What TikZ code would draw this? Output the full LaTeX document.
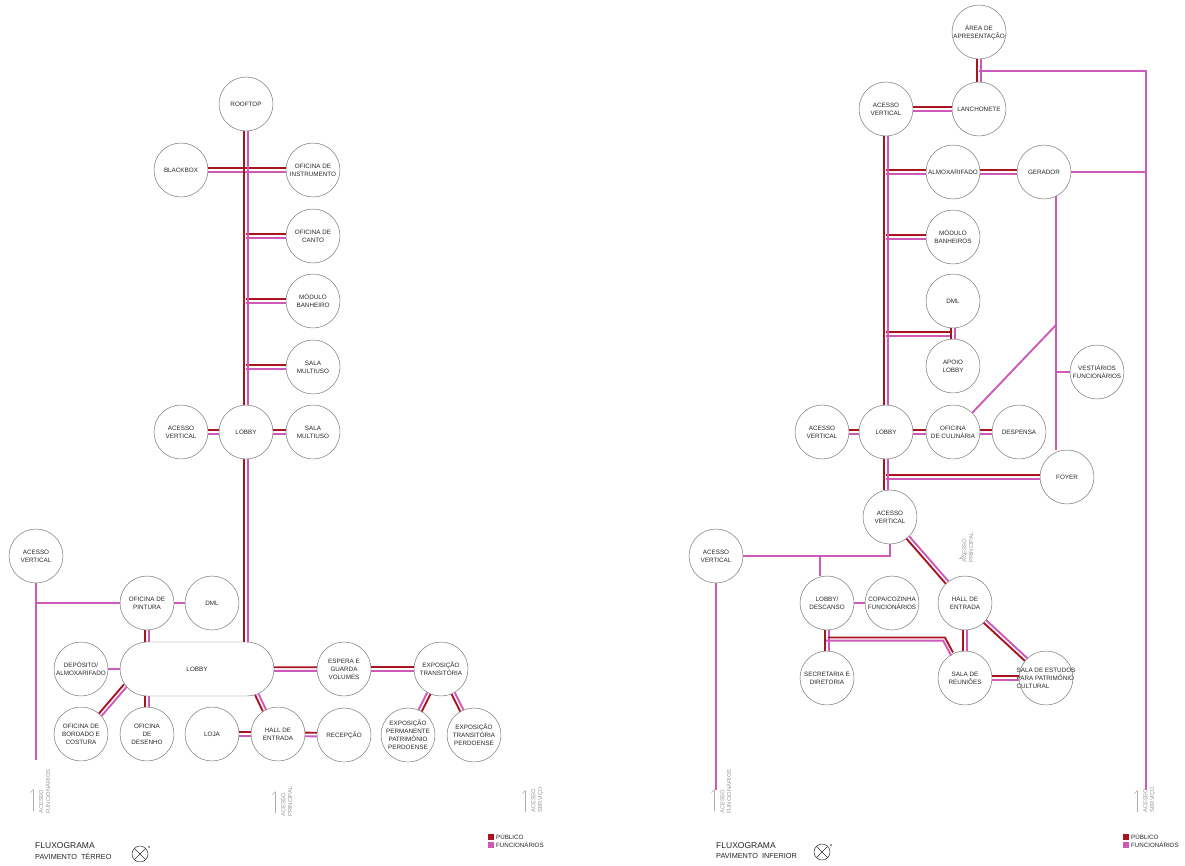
\documentclass[tikz,border=0pt]{standalone}
\usepackage{fontspec}
\setmainfont{Liberation Sans}
\usetikzlibrary{positioning,shapes.misc,arrows.meta}

\definecolor{pubred}{RGB}{168,20,32}
\definecolor{funpink}{RGB}{204,90,184}
\definecolor{traco}{RGB}{110,110,110}

% red + pink pair, red on side #1
\newcommand{\fluxo}[2]{%
  \draw[pub, transform canvas={shift={(#1:1.8pt)}}] #2;
  \draw[fun, transform canvas={shift={(#1+180:1.8pt)}}] #2;}

\begin{document}
\begin{tikzpicture}[x=1pt, y=-1pt]

\tikzstyle{sala} = [circle, draw=traco, line width=0.45pt, minimum size=54pt, inner sep=0pt, align=center, text=black!85, font=\fontsize{6.3}{8}\selectfont]
\tikzstyle{salao} = [rounded rectangle, draw=traco, line width=0.45pt, minimum width=154pt, minimum height=54pt, inner sep=0pt, text=black!85, font=\fontsize{6.3}{8}\selectfont]
\tikzstyle{pub} = [draw=pubred, line width=1.9pt]
\tikzstyle{fun} = [draw=funpink, line width=1.9pt]
\tikzstyle{acesso} = [rotate=90, anchor=north west, align=left, inner sep=0pt, text=gray!80, font=\fontsize{5.8}{6.8}\selectfont]
\tikzstyle{seta} = [draw=gray!65, line width=0.5pt, -{Straight Barb[left,length=3pt,width=5pt]}]
\tikzstyle{legenda} = [inner sep=0pt, text=black!85, font=\fontsize{6.2}{7}\selectfont]
\tikzstyle{marca} = [minimum size=5.5pt, inner sep=0pt]

\fill[white] (0,0) rectangle (1185,865);
\useasboundingbox (0,0) rectangle (1185,865);

% pavimento terreo
\node[sala] (roof) at (246,104) {ROOFTOP};
\node[sala] (bbox) at (181,170) {BLACKBOX};
\node[sala] (oins) at (313,170) {OFICINA DE\\INSTRUMENTO};
\node[sala] (ocan) at (313,236) {OFICINA DE\\CANTO};
\node[sala] (mban) at (313,301) {MÓDULO\\BANHEIRO};
\node[sala] (smu) at (313,367) {SALA\\MULTIUSO};

\node[sala] (avt) at (181,432) {ACESSO\\VERTICAL};
\node[sala] (lobt) at (246,432) {LOBBY};
\node[sala] (smt) at (313,432) {SALA\\MULTIUSO};

\node[sala] (ave) at (36,556) {ACESSO\\VERTICAL};
\node[sala] (opin) at (147,603) {OFICINA DE\\PINTURA};
\node[sala] (dmlt) at (212,603) {DML};
\node[sala] (dep) at (81,669) {DEPÓSITO/\\ALMOXARIFADO};
\node[salao] (lob) at (197,669) {LOBBY};
\node[sala] (esp) at (344,669) {ESPERA E\\GUARDA\\VOLUMES};
\node[sala] (ext) at (441,669) {EXPOSIÇÃO\\TRANSITÓRIA};

\node[sala] (obor) at (81,734) {OFICINA DE\\BORDADO E\\COSTURA};
\node[sala] (odes) at (147,734) {OFICINA\\DE\\DESENHO};
\node[sala] (loja) at (212,734) {LOJA};
\node[sala] (hall) at (278,734) {HALL DE\\ENTRADA};
\node[sala] (rec) at (344,735) {RECEPÇÃO};
\node[sala] (expp) at (408,735) {EXPOSIÇÃO\\PERMANENTE\\PATRIMÔNIO\\PERDOENSE};
\node[sala] (extp) at (474,735) {EXPOSIÇÃO\\TRANSITÓRIA\\PERDOENSE};

\coordinate (fe) at (36,760);

\fluxo{90}{(bbox) -- (oins)}
\fluxo{90}{(roof |- ocan) -- (ocan)}
\fluxo{90}{(roof |- mban) -- (mban)}
\fluxo{90}{(roof |- smu) -- (smu)}
\fluxo{180}{(roof) -- (lobt)}
\fluxo{90}{(avt) -- (lobt)}
\fluxo{90}{(lobt) -- (smt)}
\fluxo{180}{(lobt) -- (lobt |- lob.north)}

\draw[fun] (ave) -- (fe);
\draw[fun] (ave |- opin) -- (opin);
\draw[fun] (opin) -- (dmlt);
\draw[fun] (dep) -- (lob);
\fluxo{180}{(opin) -- (opin |- lob.north)}
\fluxo{139}{(lob.193) -- (obor.north east)}
\fluxo{180}{(odes) -- (odes |- lob.south)}
\fluxo{204}{(lob.337) -- (hall.120)}
\fluxo{90}{(loja) -- (hall)}
\fluxo{90}{(hall) -- (rec)}
\fluxo{90}{(lob) -- (esp)}
\fluxo{90}{(esp) -- (ext)}
\fluxo{333}{(ext) -- (expp)}
\fluxo{207}{(ext) -- (extp)}

% pavimento inferior
\node[sala] (area) at (979,32) {ÁREA DE\\APRESENTAÇÃO};
\node[sala] (lanc) at (979,109) {LANCHONETE};
\node[sala] (avs) at (886,109) {ACESSO\\VERTICAL};
\node[sala] (alm) at (953,172) {ALMOXARIFADO};
\node[sala] (ger) at (1044,172) {GERADOR};
\node[sala] (mbr) at (953,237) {MÓDULO\\BANHEIROS};
\node[sala] (dmli) at (953,301) {DML};
\node[sala] (apo) at (953,366) {APOIO\\LOBBY};
\node[sala] (vest) at (1097,372) {VESTIÁRIOS\\FUNCIONÁRIOS};

\node[sala] (avm) at (822,432) {ACESSO\\VERTICAL};
\node[sala] (lobi) at (886,432) {LOBBY};
\node[sala] (ocul) at (953,432) {OFICINA\\DE CULINÁRIA};
\node[sala] (desp) at (1019,432) {DESPENSA};
\node[sala] (foy) at (1067,477) {FOYER};

\node[sala] (avi) at (890,517) {ACESSO\\VERTICAL};
\node[sala] (avf) at (716,556) {ACESSO\\VERTICAL};
\node[sala] (ldes) at (827,603) {LOBBY/\\DESCANSO};
\node[sala] (copa) at (892,603) {COPA/COZINHA\\FUNCIONÁRIOS};
\node[sala] (hali) at (965,603) {HALL DE\\ENTRADA};
\node[sala] (sec) at (827,678) {SECRETARIA E\\DIRETORIA};
\node[sala] (sreu) at (965,678) {SALA DE\\REUNIÕES};
\node[sala, label={[align=left, text=black!85, font=\fontsize{6.3}{8}\selectfont]center:SALA DE ESTUDOS\\PARA PATRIMÔNIO\\CULTURAL}] (sest) at (1046,678) {};

\coordinate (srv) at (1146,71);
\coordinate (sfim) at (1146,790);
\coordinate (gv) at (1056,196);
\coordinate (gd) at (1056,325);
\coordinate (jd) at (951,334);
\coordinate (jl) at (820,556);
\coordinate (jr) at (827,639);
\coordinate (kr) at (944,639);
\coordinate (ffim) at (716,790);

\draw[fun] (srv -| lanc) -- (srv) -- (sfim);
\draw[fun] (ger) -- (ger -| srv);
\draw[fun] (gv) -- (gv |- foy.north);
\draw[fun] (ocul.north east) -- (gd);
\draw[fun] (gv |- vest) -- (vest);
\draw[fun] (avi.south) -- (avi.south |- avf) -- (avf);
\draw[fun] (jl) -- (jl |- ldes.north);
\draw[fun] (ldes) -- (copa);
\draw[fun] (avf) -- (ffim);

\fluxo{180}{(area) -- (lanc)}
\fluxo{90}{(avs) -- (lanc)}
\fluxo{90}{(avs |- alm) -- (alm)}
\fluxo{90}{(alm) -- (ger)}
\fluxo{90}{(avs |- mbr) -- (mbr)}
\fluxo{90}{(avs |- jd) -- (jd)}
\fluxo{180}{(dmli) -- (apo)}
\fluxo{180}{(avs) -- (lobi)}
\fluxo{90}{(avm) -- (lobi)}
\fluxo{90}{(lobi) -- (ocul)}
\fluxo{90}{(ocul) -- (desp)}
\fluxo{90}{(lobi |- foy) -- (foy)}
\fluxo{180}{(lobi) -- (lobi |- avi.north)}
\fluxo{221}{(avi) -- (hali)}
\fluxo{180}{(ldes) -- (sec)}
\fluxo{60}{(jr) -- (kr) -- (sreu)}
\fluxo{180}{(hali) -- (sreu)}
\fluxo{227}{(hali) -- (sest)}
\fluxo{90}{(sreu) -- (sest)}

% acessos
\node[acesso] (af1) at (39,814) {ACESSO\\FUNCIONÁRIOS};
\draw[seta] (33,811) -- (33,789);
\node[acesso] (ap1) at (281,817) {ACESSO\\PRINCIPAL};
\draw[seta] (275,813) -- (275,791);
\node[acesso] (as1) at (531,813) {ACESSO\\SERVIÇO};
\draw[seta] (525,812) -- (525,790);
\node[acesso] (af2) at (720,814) {ACESSO\\FUNCIONÁRIOS};
\draw[seta] (714,811) -- (714,789);
\node[acesso] (as2) at (1143,813) {ACESSO\\SERVIÇO};
\draw[seta] (1137,812) -- (1137,790);
\node[acesso] (ap2) at (962,563) {ACESSO\\PRINCIPAL};
\draw[seta] (967,553) -- (959,559);

% titulos
\node[anchor=base west, inner sep=0pt, text=black!85, font=\fontsize{8.5}{9}\selectfont] (flx1) at (35,848) {FLUXOGRAMA};
\node[anchor=base west, inner sep=0pt, text=black!85, font=\fontsize{7.3}{8}\selectfont] (pav1) at (35,859) {PAVIMENTO \ TÉRREO};
\node[anchor=base west, inner sep=0pt, text=black!85, font=\fontsize{8.5}{9}\selectfont] (flx2) at (716,848) {FLUXOGRAMA};
\node[anchor=base west, inner sep=0pt, text=black!85, font=\fontsize{7.3}{8}\selectfont] (pav2) at (716,858) {PAVIMENTO \ INFERIOR};

\foreach \cx/\cy in {140/854, 822/852} {
  \draw[black!80, line width=0.5pt] (\cx,\cy) circle (8);
  \draw[black!80, line width=0.5pt] (\cx-5.7,\cy+5.7) -- (\cx+5.7,\cy-5.7);
  \draw[black!80, line width=0.5pt] (\cx-5.7,\cy-5.7) -- (\cx+5.7,\cy+5.7);
  \fill[black!80] (\cx+9,\cy-7) circle (0.8);
}

% legenda
\node[marca, fill=pubred] (lp1) at (491,837) {};
\node[marca, fill=funpink, below=2pt of lp1] (lf1) {};
\node[legenda, right=2pt of lp1] {PÚBLICO};
\node[legenda, right=2pt of lf1] {FUNCIONÁRIOS};
\node[marca, fill=pubred] (lp2) at (1126,837) {};
\node[marca, fill=funpink, below=2pt of lp2] (lf2) {};
\node[legenda, right=2pt of lp2] {PÚBLICO};
\node[legenda, right=2pt of lf2] {FUNCIONÁRIOS};

\end{tikzpicture}
\end{document}
